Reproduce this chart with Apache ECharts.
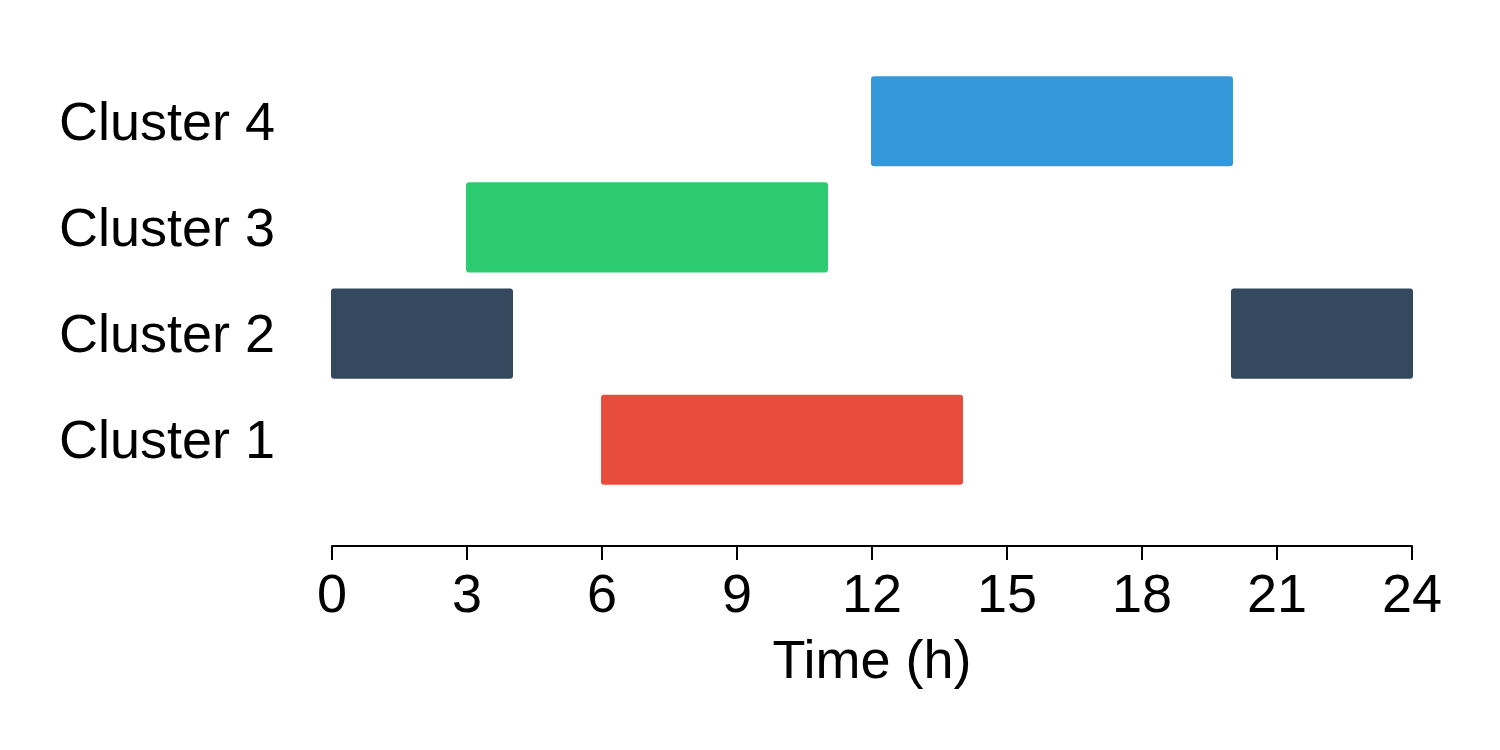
<!DOCTYPE html>
<html>
<head>
<meta charset="utf-8">
<script src="https://cdn.jsdelivr.net/npm/echarts@6/dist/echarts.min.js"></script>
<style>html,body{margin:0;padding:0;background:#fff;}#c{width:1500px;height:750px;}</style>
</head>
<body>
<div id="c"></div>
<script>
const categories = ['Cluster 1', 'Cluster 2', 'Cluster 3', 'Cluster 4'];
const clusterColors = ['#e74c3c', '#34495e', '#2ecc71', '#3498db'];
const segClusters = [0, 1, 1, 2, 3];
const segStarts = [6, 0, 20, 3, 12];
const segEnds = [14, 4, 24, 11, 20];
const xTicks = [0, 3, 6, 9, 12, 15, 18, 21, 24];

const data = segClusters.map((c, i) => [segStarts[i], segEnds[i], c]);
const font = 'Liberation Sans, Arial, sans-serif';
const chart = echarts.init(document.getElementById('c'));
chart.setOption({
  animation: false,
  backgroundColor: '#fff',
  grid: { left: 332, right: 88, top: 15, bottom: 204, containLabel: false },
  xAxis: {
    type: 'value', min: 0, max: 24, interval: 3,
    axisLine: { show: true, onZero: false, lineStyle: { color: '#000', width: 2 } },
    axisTick: { show: true, length: 14, lineStyle: { color: '#000', width: 2 } },
    splitLine: { show: false },
    axisLabel: { color: '#000', fontSize: 54, fontFamily: font, margin: 24,
      formatter: v => xTicks.includes(v) ? String(v) : '' },
    name: 'Time (h)', nameLocation: 'middle', nameGap: 90,
    nameTextStyle: { color: '#000', fontSize: 54, fontFamily: font }
  },
  yAxis: {
    type: 'value', min: -1, max: 4, interval: 1,
    axisLine: { show: false }, axisTick: { show: false }, splitLine: { show: false },
    axisLabel: { color: '#000', fontSize: 54, fontFamily: font, margin: 57,
      rich: { c: { fontSize: 54, fontFamily: font, color: '#000', padding: [7, 0, 0, 0] } },
      formatter: v => (v >= 0 && v < categories.length) ? '{c|' + categories[v] + '}' : '' }
  },
  series: [{
    type: 'custom',
    data: data,
    encode: { x: [0, 1], y: 2 },
    renderItem: function (params, api) {
      const c = api.value(2);
      const p0 = api.coord([api.value(0), c]);
      const p1 = api.coord([api.value(1), c]);
      const h = api.size([0, 1])[1] * 0.83;
      return {
        type: 'rect',
        shape: { x: p0[0], y: p0[1] - h / 2, width: p1[0] - p0[0], height: h, r: 2 },
        style: { fill: clusterColors[c], stroke: clusterColors[c], lineWidth: 2 }
      };
    }
  }]
});
</script>
</body>
</html>
